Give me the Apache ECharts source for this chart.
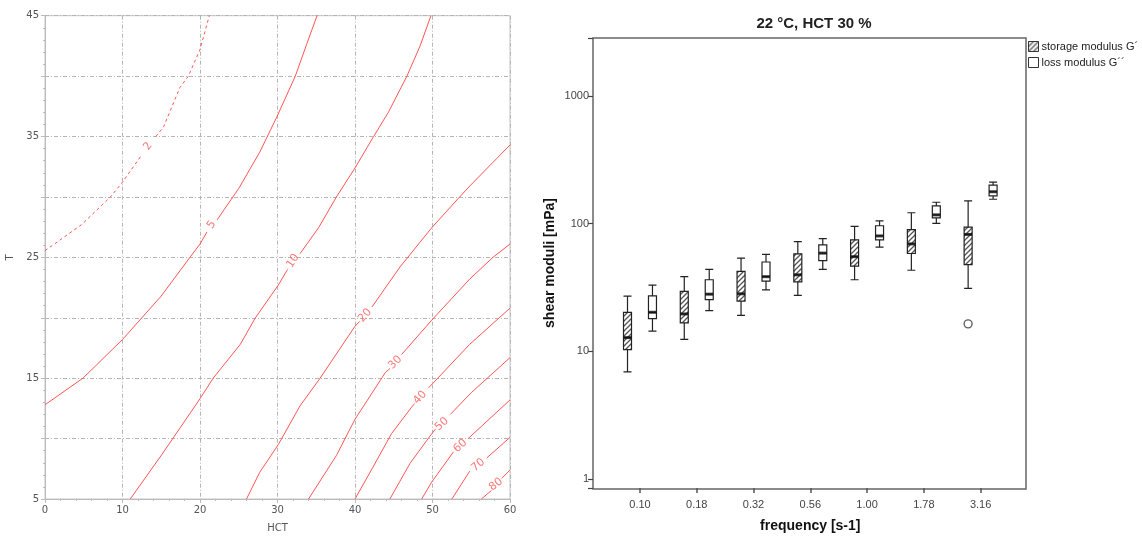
<!DOCTYPE html>
<html>
<head>
<meta charset="utf-8">
<script src="https://cdn.jsdelivr.net/npm/echarts@6/dist/echarts.min.js"></script>
<style>html,body{margin:0;padding:0;background:#fff}#c{width:1142px;height:538px}</style>
</head>
<body>
<div id="c"></div>
<script>
// ---------- LEFT PANEL DATA (contour lines of level over HCT x T) ----------
const contourLevels = ['2', '5', '10', '20', '30', '40', '50', '60', '70', '80'];
const contour_2  = [[0,25.55],[4.7,27.7],[8.4,29.97],[9.9,31.14],[12.4,33.4],null,[14.3,35.0],[15.3,35.8],[17.4,39.05],[18.5,40.0],[20,42.2],[21.2,45]];
const contour_5  = [[0,12.8],[4.9,15.0],[10,18.2],[15,21.8],[18.7,25.0],[20,26.1],[20.9,27.1],null,[22.2,28.1],[25,30.7],[27.7,33.7],[29.9,36.6],[32.3,40.0],[33.8,42.7],[35.1,45]];
const contour_10 = [[11,5],[15.1,8.7],[20,13.3],[21.7,15.0],[25.2,17.8],[27.1,19.95],[30.1,22.7],[31.3,24.0],null,[32.9,25.3],[35.3,27.45],[37.6,30.0],[40,32.4],[42.4,35.0],[44.3,37.0],[46.7,40.0],[48.4,42.5],[49.8,45]];
const contour_20 = [[26,5],[27.7,7.2],[30.1,9.5],[32.9,12.7],[35.5,15.0],[40,19.3],[40.6,19.7],null,[42.2,20.9],[45.8,24.2],[49.9,27.45],[53.5,30.0],[54.8,30.9],[60,34.3]];
const contour_30 = [[34,5],[37.6,8.6],[40,11.6],[43.9,15.45],[44.5,15.8],null,[46,16.95],[49.9,19.8],[54.8,23.2],[57.8,25.0],[60,26.1]];
const contour_40 = [[40,5],[42.2,7.5],[44.7,10.4],[47.3,12.6],[47.7,12.9],null,[49.5,14.2],[54.8,17.8],[60,20.8]];
const contour_50 = [[44.5,5],[47.1,7.95],[49.9,10.4],[50.4,10.8],null,[52.3,12.0],[55,13.8],[60,16.7]];
const contour_60 = [[48.6,5],[49.9,6.4],[52.7,8.9],null,[54.6,10.0],[60,13.2]];
const contour_70 = [[52.5,5],[54.8,7.3],null,[57.0,8.4],[60,10.1]];
const contour_80 = [[56.3,5],[57.6,5.7],null,[58.9,6.7],[60,7.4]];
// label anchor positions [HCT, T] for each contour level
const contourLabelPos = [[13.3,34.2],[21.5,27.7],[32.0,24.7],[41.3,20.2],[45.2,16.3],[48.4,13.4],[51.2,11.2],[53.6,9.4],[55.9,7.8],[58.2,6.2]];
const xTicksLeft = [0, 10, 20, 30, 40, 50, 60];
const yTicksLeft = [5, 15, 25, 35, 45];

// ---------- RIGHT PANEL DATA (boxplots: [min, Q1, median, Q3, max]) ----------
const freqLabels = ['0.10', '0.18', '0.32', '0.56', '1.00', '1.78', '3.16'];
const storageBox = [
  [6.9, 10.3, 12.8, 20.2, 27.0],
  [12.4, 16.7, 19.6, 29.4, 38.4],
  [19.1, 24.7, 28.2, 42.2, 53.6],
  [27.4, 34.9, 39.7, 58.0, 72.1],
  [36.3, 46.4, 55.1, 74.6, 95.1],
  [43.1, 58.3, 69.3, 89.8, 121.5],
  [31.1, 47.7, 82.2, 93.8, 150.7]
];
const lossBox = [
  [14.4, 18.0, 20.2, 27.2, 32.9],
  [20.8, 25.4, 28.0, 36.3, 43.8],
  [30.2, 35.4, 38.4, 50.0, 57.4],
  [43.8, 51.2, 58.7, 68.2, 76.3],
  [65.4, 74.6, 80.0, 96.1, 105],
  [100.5, 110.7, 117.0, 137.6, 146.8],
  [155, 165, 177.5, 200, 211]
];
const storageOutliers = [['3.16', 16.4]];
const seriesNames = ['storage modulus G\u00B4', 'loss modulus G\u00B4\u00B4'];

// ---------- STYLE ----------
const RED = '#ff5555';
const contourData = [contour_2, contour_5, contour_10, contour_20, contour_30, contour_40, contour_50, contour_60, contour_70, contour_80];
const labelRot = [54, 56, 56, 48, 47, 48, 42, 42, 40, 38];

function hatchCanvas() {
  const s = 5;
  const c = document.createElement('canvas');
  c.width = s; c.height = s;
  const g = c.getContext('2d');
  g.fillStyle = '#ffffff'; g.fillRect(0, 0, s, s);
  g.strokeStyle = '#555'; g.lineWidth = 1.3;
  g.beginPath();
  g.moveTo(-1, s + 1); g.lineTo(s + 1, -1);
  g.moveTo(-1, 1); g.lineTo(1, -1);
  g.moveTo(s - 1, s + 1); g.lineTo(s + 1, s - 1);
  g.stroke();
  return c;
}
const hatch = { image: hatchCanvas(), repeat: 'repeat' };

const chart = echarts.init(document.getElementById('c'), null, { renderer: 'canvas' });

const series = [];
contourData.forEach((d, i) => {
  series.push({
    type: 'line', xAxisIndex: 0, yAxisIndex: 0, data: d, showSymbol: false, symbol: 'none',
    connectNulls: false, silent: true, animation: false,
    lineStyle: { color: RED, width: 1, type: i === 0 ? [3, 3] : 'solid' }
  });
});
series.push({
  type: 'scatter', xAxisIndex: 0, yAxisIndex: 0, symbolSize: 0, silent: true, animation: false,
  data: contourLabelPos.map((p, i) => ({
    value: p,
    label: { show: true, formatter: contourLevels[i], rotate: labelRot[i], position: 'inside',
      color: RED, fontSize: 11, fontFamily: 'DejaVu Sans' }
  }))
});

// right panel
series.push({
  name: seriesNames[0], type: 'boxplot', xAxisIndex: 1, yAxisIndex: 1, data: storageBox,
  boxWidth: [8, 8], animation: false,
  itemStyle: { color: hatch, borderColor: '#222', borderWidth: 1.2 }
});
series.push({
  name: seriesNames[1], type: 'boxplot', xAxisIndex: 1, yAxisIndex: 1, data: lossBox,
  boxWidth: [8, 8], animation: false,
  itemStyle: { color: '#fff', borderColor: '#222', borderWidth: 1.2 }
});
series.push({
  type: 'scatter', xAxisIndex: 1, yAxisIndex: 1, animation: false, silent: true,
  symbol: 'rect', symbolSize: [8, 3], symbolOffset: [-12.5, 0], itemStyle: { color: '#111' },
  data: storageBox.map((b, i) => [freqLabels[i], b[2]])
});
series.push({
  type: 'scatter', xAxisIndex: 1, yAxisIndex: 1, animation: false, silent: true,
  symbol: 'rect', symbolSize: [8, 3], symbolOffset: [12.4, 0], itemStyle: { color: '#111' },
  data: lossBox.map((b, i) => [freqLabels[i], b[2]])
});
series.push({
  type: 'scatter', xAxisIndex: 1, yAxisIndex: 1, animation: false, silent: true,
  symbol: 'circle', symbolSize: 8, symbolOffset: [-12.5, 0],
  itemStyle: { color: '#fff', borderColor: '#333', borderWidth: 1.3 },
  data: storageOutliers
});

const leftLabel = { color: '#555', fontSize: 10, fontFamily: 'DejaVu Sans' };

const option = {
  animation: false,
  backgroundColor: '#fff',
  title: {
    text: '22 \u00B0C, HCT 30 %', left: 809, top: 11, textAlign: 'center',
    textStyle: { fontSize: 15, fontWeight: 'bold', color: '#222', fontFamily: 'Liberation Sans' }
  },
  legend: {
    data: [
      { name: seriesNames[0], icon: 'rect', itemStyle: { color: hatch, borderColor: '#333', borderWidth: 1 } },
      { name: seriesNames[1], icon: 'rect', itemStyle: { color: '#fff', borderColor: '#333', borderWidth: 1 } }
    ],
    orient: 'vertical', left: 1028, top: 41, itemWidth: 10, itemHeight: 10,
    itemGap: 5, padding: 0, selectedMode: false,
    textStyle: { fontSize: 11, color: '#222', fontFamily: 'Liberation Sans', padding: [0, 0, 0, -2] }
  },
  grid: [
    { left: 45, top: 15.7, width: 465, height: 488.6, show: true, borderColor: '#c4c4c4', borderWidth: 1 },
    { left: 611.6, top: 38, width: 397.4, height: 451 },
    { left: 593, top: 38, width: 433, height: 451, show: true, borderColor: '#666', borderWidth: 1.5 }
  ],
  xAxis: [
    { type: 'value', gridIndex: 0, min: 0, max: 60, interval: 10, name: 'HCT', nameLocation: 'middle', nameGap: 24,
      nameTextStyle: { fontSize: 10, color: '#555', fontFamily: 'DejaVu Sans' },
      axisLine: { show: true, lineStyle: { color: '#bbb' } },
      axisTick: { show: true, length: 4, lineStyle: { color: '#bbb' } },
      minorTick: { show: true, splitNumber: 5, length: 2, lineStyle: { color: '#bbb' } },
      axisLabel: Object.assign({ margin: 6, formatter: v => xTicksLeft.includes(v) ? String(v) : '' }, leftLabel),
      splitLine: { show: true, lineStyle: { color: '#b5b5b5', type: [4, 2, 1, 2], width: 1 } }
    },
    { type: 'category', gridIndex: 1, data: freqLabels, boundaryGap: true,
      axisLine: { show: false },
      axisTick: { show: true, alignWithLabel: true, length: 5, lineStyle: { color: '#555', width: 1.5 } },
      axisLabel: { margin: 11, fontSize: 11, color: '#444', fontFamily: 'Liberation Sans' },
      name: 'frequency [s-1]', nameLocation: 'middle', nameGap: 31,
      nameTextStyle: { fontSize: 14, fontWeight: 'bold', color: '#111', fontFamily: 'Liberation Sans' },
      splitLine: { show: false }
    },
    { type: 'value', gridIndex: 2, show: false, min: 0, max: 1 }
  ],
  yAxis: [
    { type: 'value', gridIndex: 0, min: 5, max: 45, interval: 5, name: 'T', nameLocation: 'middle', nameGap: 30,
      nameTextStyle: { fontSize: 10, color: '#555', fontFamily: 'DejaVu Sans' },
      axisLine: { show: true, lineStyle: { color: '#bbb' } },
      axisTick: { show: true, length: 4, lineStyle: { color: '#bbb' } },
      minorTick: { show: true, splitNumber: 5, length: 2, lineStyle: { color: '#bbb' } },
      axisLabel: Object.assign({ margin: 6, formatter: v => yTicksLeft.includes(v) ? String(v) : '' }, leftLabel),
      splitLine: { show: true, lineStyle: { color: '#b5b5b5', type: [4, 2, 1, 2], width: 1 } }
    },
    { type: 'log', gridIndex: 1, logBase: 10, min: 0.85, max: 2838, offset: 18.6,
      axisLine: { show: false },
      axisTick: { show: true, length: 5, lineStyle: { color: '#444', width: 1.2 } },
      axisLabel: { margin: 4, fontSize: 11, color: '#444', fontFamily: 'Liberation Sans',
        formatter: v => { const l = Math.log10(v); return Math.abs(l - Math.round(l)) < 1e-6 ? String(Math.round(v)) : ''; } },
      splitLine: { show: false },
      name: 'shear moduli [mPa]', nameLocation: 'middle', nameGap: 36,
      nameTextStyle: { fontSize: 14, fontWeight: 'bold', color: '#111', fontFamily: 'Liberation Sans' }
    },
    { type: 'value', gridIndex: 2, show: false, min: 0, max: 1 }
  ],
  series: series
};
chart.setOption(option);
</script>
</body>
</html>
